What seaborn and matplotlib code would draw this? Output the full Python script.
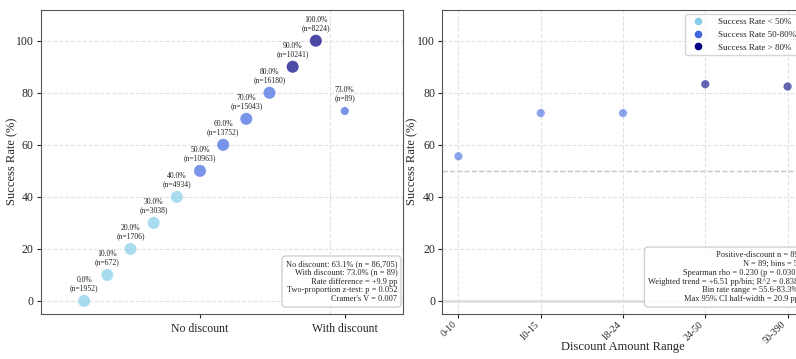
import numpy as np
import pandas as pd
import matplotlib
matplotlib.use('Agg')
import matplotlib.pyplot as plt
import seaborn as sns
from matplotlib.lines import Line2D

# left panel: success rate groups without discount, plus the discounted group
group_rates = [0.0, 10.0, 20.0, 30.0, 40.0, 50.0, 60.0, 70.0, 80.0, 90.0, 100.0]
group_counts = [1952, 672, 1706, 3038, 4934, 10963, 13752, 15043, 16180, 10241, 8224]
discount_rate = 73.0
discount_count = 89
category_labels = ['No discount', 'With discount']

left_stats = [
    'No discount: 63.1% (n = 86,705)',
    'With discount: 73.0% (n = 89)',
    'Rate difference = +9.9 pp',
    'Two-proportion z-test: p = 0.052',
    "Cramer's V = 0.007",
]

# right panel: discount amount bins
amount_bins = ['0-10', '10-15', '18-24', '24-50', '50-390']
bin_rates = [55.6, 72.2, 72.2, 83.3, 82.4]

right_stats = [
    'Positive-discount n = 89',
    'N = 89; bins = 5',
    'Spearman rho = 0.230 (p = 0.030)',
    'Weighted trend = +6.51 pp/bin; R^2 = 0.838',
    'Bin rate range = 55.6-83.3%',
    'Max 95% CI half-width = 20.9 pp',
]

palette = {'low': 'skyblue', 'mid': 'royalblue', 'high': 'navy'}
legend_names = {'low': 'Success Rate < 50%', 'mid': 'Success Rate 50-80%', 'high': 'Success Rate > 80%'}


def rate_group(r):
    if r < 50:
        return 'low'
    if r <= 80:
        return 'mid'
    return 'high'


sns.set_style('whitegrid', {'grid.linestyle': '--', 'grid.color': '#e2e2e2'})
plt.rcParams['font.family'] = ['Liberation Serif', 'DejaVu Serif']
plt.rcParams['axes.edgecolor'] = '#555555'

fig = plt.figure(figsize=(7.96, 3.59), dpi=100)
ax1 = fig.add_axes([40.7 / 796, 45 / 359, 362 / 796, 304.5 / 359])
ax2 = fig.add_axes([442 / 796, 45 / 359, 362 / 796, 304.5 / 359])

# ---- left panel ----
left_df = pd.DataFrame({
    'x': np.linspace(-0.8, 0.8, len(group_rates)),
    'rate': group_rates,
    'n': group_counts,
})
left_df['group'] = left_df['rate'].apply(rate_group)
sns.scatterplot(data=left_df, x='x', y='rate', hue='group', palette=palette,
                s=75, alpha=0.7, edgecolor='none', legend=False, ax=ax1)

disc_df = pd.DataFrame({'x': [1.0], 'rate': [discount_rate], 'n': [discount_count]})
disc_df['group'] = disc_df['rate'].apply(rate_group)
sns.scatterplot(data=disc_df, x='x', y='rate', hue='group', palette=palette,
                s=35, alpha=0.7, edgecolor='none', legend=False, ax=ax1)

for _, row in pd.concat([left_df, disc_df]).iterrows():
    ax1.annotate(f"{row['rate']:.1f}%\n(n={int(row['n'])})", (row['x'], row['rate']),
                 xytext=(0, 6), textcoords='offset points', ha='center', va='bottom',
                 fontsize=5.5, linespacing=1.1, color='#222222')

ax1.set_xlim(-1.1, 1.4)
ax1.set_ylim(-5, 112)
ax1.set_xticks([0, 1])
ax1.set_xticklabels(category_labels, fontsize=8.5)
ax1.set_yticks(range(0, 101, 20))
ax1.tick_params(axis='y', labelsize=8.5, length=3, left=True, pad=2)
ax1.tick_params(axis='x', length=3, bottom=True)
ax1.grid(axis='x', visible=False)
ax1.axvline(0.9, color='#e2e2e2', linestyle='--', linewidth=0.8, zorder=0)
ax1.set_xlabel('')
ax1.set_ylabel('Success Rate (%)', fontsize=9)
ax1.yaxis.set_label_coords(-0.063, 0.5)
ax1.text(0.985, 0.035, '\n'.join(left_stats), transform=ax1.transAxes, ha='right', va='bottom',
         fontsize=6, linespacing=1.15,
         bbox=dict(boxstyle='round,pad=0.45', facecolor='white', edgecolor='#cccccc', alpha=0.9))

# ---- right panel ----
right_df = pd.DataFrame({'bin': amount_bins, 'rate': bin_rates})
right_df['group'] = right_df['rate'].apply(rate_group)
sns.scatterplot(data=right_df, x='bin', y='rate', hue='group', palette=palette,
                s=35, alpha=0.6, edgecolor='none', legend=False, ax=ax2)

ax2.axhline(50, color='#c4c4c4', linestyle='--', linewidth=1, zorder=0)
ax2.axhline(0, color='#dddddd', linestyle='-', linewidth=2, zorder=0)
ax2.set_xlim(-0.2, 4.2)
ax2.set_ylim(-5, 112)
ax2.set_yticks(range(0, 101, 20))
ax2.tick_params(axis='y', labelsize=8.5, length=3, left=True, pad=2)
ax2.tick_params(axis='x', labelsize=7, length=3, bottom=True, pad=1)
for lbl in ax2.get_xticklabels():
    lbl.set_rotation(45)
    lbl.set_ha('right')
    lbl.set_va('top')
ax2.set_xlabel('Discount Amount Range', fontsize=9)
ax2.xaxis.set_label_coords(0.5, -0.09)
ax2.set_ylabel('Success Rate (%)', fontsize=9)
ax2.yaxis.set_label_coords(-0.066, 0.5)

handles = [Line2D([], [], marker='o', linestyle='', color=palette[k], markersize=4.5,
                  label=legend_names[k]) for k in ['low', 'mid', 'high']]
ax2.legend(handles=handles, loc='upper right', fontsize=6.5, frameon=True,
           borderaxespad=0.5, handletextpad=1.2)

ax2.text(0.985, 0.035, '\n'.join(right_stats), transform=ax2.transAxes, ha='right', va='bottom',
         fontsize=6, linespacing=1.15,
         bbox=dict(boxstyle='round,pad=0.45', facecolor='white', edgecolor='#cccccc', alpha=0.9))

fig.savefig('out.png', dpi=100)
plt.close(fig)
